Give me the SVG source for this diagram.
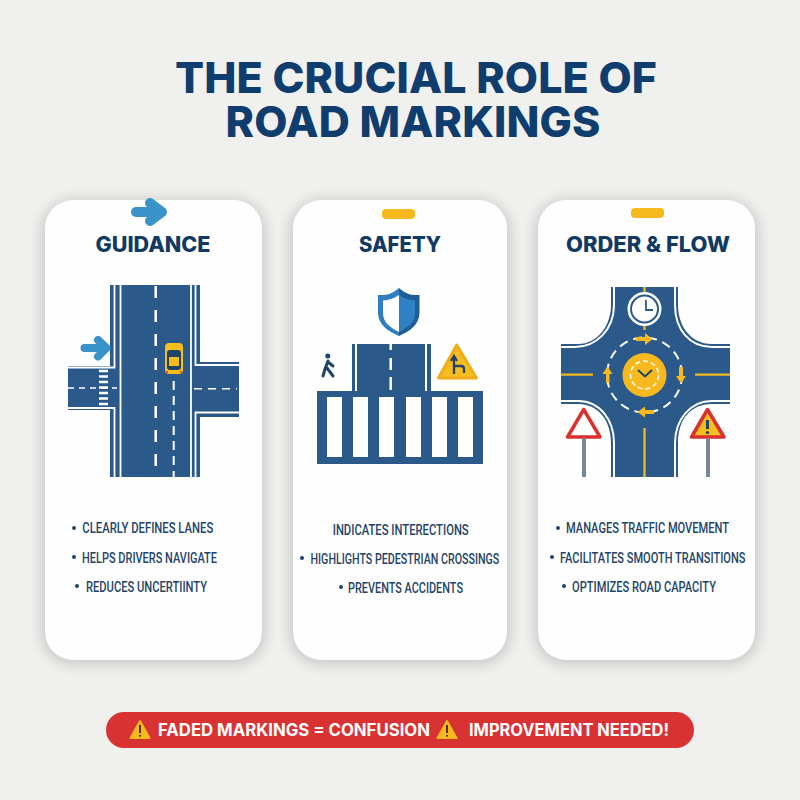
<svg xmlns="http://www.w3.org/2000/svg" width="800" height="800" viewBox="0 0 800 800">
<defs>
<filter id="sh" x="-15%" y="-10%" width="130%" height="120%"><feGaussianBlur stdDeviation="7"/></filter>
</defs>
<style>
.bg{fill:#f0f0ef}
.card{fill:#fefefe}
.shadow{fill:#000;opacity:.17}
.road{fill:#2b5a8a}
.wl{stroke:#fff;fill:none}
.title{font-family:Inter,"Liberation Sans",sans-serif;font-weight:800;fill:#0f3d6e;font-size:43px;text-anchor:middle}
.head{font-family:Inter,"Liberation Sans",sans-serif;font-weight:800;fill:#113a63;font-size:21px;text-anchor:middle}
.li{font-family:Roboto,"Liberation Sans",sans-serif;font-weight:500;fill:#1f4468;font-size:15.5px}
.dot{fill:#1f4468}
.ban{font-family:Inter,"Liberation Sans",sans-serif;font-weight:700;fill:#fff;font-size:17px}
.yel{fill:#f7b91e}
.ya{stroke:#f3b81f;fill:none}
.blue-arrow{fill:none;stroke:#3a92cb;stroke-linecap:round;stroke-linejoin:round}
</style>
<rect class="bg" width="800" height="800"/>
<text class="title" x="416" y="93" textLength="482" lengthAdjust="spacing">THE CRUCIAL ROLE OF</text>
<text class="title" x="413" y="137" textLength="375" lengthAdjust="spacing">ROAD MARKINGS</text>

<g id="card-guidance">
<rect class="shadow" x="42" y="200" width="223" height="464" rx="30" filter="url(#sh)"/>
<rect class="card" x="45" y="200" width="217" height="460" rx="28"/>
<path class="blue-arrow" d="M136 212H158M150 203L162 212L150 221" stroke-width="10"/>
<text class="head" x="153" y="252" textLength="115" lengthAdjust="spacingAndGlyphs">GUIDANCE</text>
<rect class="road" x="110" y="285" width="90" height="192"/>
<rect class="road" x="68" y="366" width="50" height="44"/>
<rect class="road" x="190" y="362" width="49" height="55"/>
<g class="wl" stroke-width="1.800">
<path d="M114.500 285V367.500H68M68 408H114.500V477"/>
<path d="M120.500 285V477"/>
<path d="M191 285V477"/>
<path d="M195.500 285V365H239M239 412.500H195.500V477"/>
</g>
<path d="M155.700 286V477" class="wl" stroke-width="2.500" stroke-dasharray="12 12"/>
<path d="M173.700 381V477" class="wl" stroke-width="2" stroke-dasharray="9 6"/>
<path d="M68 388H117" class="wl" stroke-width="1.500" stroke-dasharray="6 5"/>
<path d="M194 388.700H237" class="wl" stroke-width="1.500" stroke-dasharray="8 6"/>
<path d="M99 371H108M99 376.500H108M99 382H108M99 387.500H108M99 393H108M99 398.500H108M99 404H108" class="wl" stroke-width="2.500"/>
<path class="blue-arrow" d="M84.500 348H104M98 340L106.500 348L98 356.500" stroke-width="8"/>
<rect x="165" y="343" width="18" height="31" rx="4" fill="#f5bd1f"/>
<rect x="167" y="350" width="14" height="20" rx="3" fill="#1f4468"/>
<rect x="169" y="357" width="10" height="9" fill="#f5bd1f"/>
<circle cx="167" cy="372" r="1" fill="#d8342f"/><circle cx="181" cy="372" r="1" fill="#d8342f"/>
<circle class="dot" cx="74" cy="528" r="2"/>
<text class="li" x="82.300" y="533" textLength="131" lengthAdjust="spacingAndGlyphs">CLEARLY DEFINES LANES</text>
<circle class="dot" cx="74" cy="557" r="2"/>
<text class="li" x="82" y="562.500" textLength="135" lengthAdjust="spacingAndGlyphs">HELPS DRIVERS NAVIGATE</text>
<circle class="dot" cx="77" cy="586" r="2"/>
<text class="li" x="86" y="591.500" textLength="121" lengthAdjust="spacingAndGlyphs">REDUCES UNCERTIINTY</text>
</g>

<g id="card-safety">
<rect class="shadow" x="290" y="200" width="220" height="464" rx="30" filter="url(#sh)"/>
<rect class="card" x="293" y="200" width="214" height="460" rx="28"/>
<rect class="yel" x="382" y="209" width="33" height="10" rx="4"/>
<text class="head" x="400" y="252" textLength="82" lengthAdjust="spacingAndGlyphs">SAFETY</text>
<path d="M399 288C391 295 386 295 378 295V312C378 325 388 331 399 336Z" fill="#2f7fc0"/>
<path d="M399 288C407 295 412 295 419.500 295V312C419.500 325 410 331 399 336Z" fill="#1f5d99"/>
<path d="M399 295C393 299 389 300 383 300.500V313C383 323 391 328 399 332Z" fill="#fff"/>
<path d="M399 295C405 299 410 300 415 300.500V313C415 323 407 328 399 332Z" fill="#2f80c4"/>
<rect class="road" x="352" y="344" width="79" height="50"/>
<path d="M356 344V392M426 344V392" class="wl" stroke-width="2"/>
<path d="M390.700 344V350M390.700 358V370M390.700 377V390" class="wl" stroke-width="2.500"/>
<rect class="road" x="317" y="391" width="166" height="73"/>
<g fill="#fff"><rect x="327" y="397" width="15" height="60"/><rect x="353" y="397" width="15" height="60"/><rect x="379" y="397" width="15" height="60"/><rect x="406" y="397" width="15" height="60"/><rect x="432" y="397" width="15" height="60"/><rect x="458" y="397" width="15" height="60"/></g>
<circle cx="327.800" cy="356" r="2.500" fill="#1f4468"/>
<path d="M328 361L325 369L323 376M327 368L333 376M328 362L333 366" fill="none" stroke="#1f4468" stroke-width="3" stroke-linecap="round" stroke-linejoin="round"/>
<path d="M456.700 345L476.500 378H438.500Z" fill="#f5bd1f" stroke="#f0ac1a" stroke-width="3" stroke-linejoin="round"/>
<path d="M454 374V358M451 361L454 356L457 361M454 366H461Q464 366 464 369V373" fill="none" stroke="#1f4468" stroke-width="2.300"/>
<text class="li" x="332.700" y="535" textLength="136" lengthAdjust="spacingAndGlyphs">INDICATES INTERECTIONS</text>
<circle class="dot" cx="302" cy="558" r="2"/>
<text class="li" transform="translate(310.500 564) scale(.69 1)">HIGHLIGHTS PEDESTRIAN CROSSINGS</text>
<circle class="dot" cx="341" cy="587" r="2"/>
<text class="li" x="348" y="592.500" textLength="115" lengthAdjust="spacingAndGlyphs">PREVENTS ACCIDENTS</text>
</g>

<g id="card-order">
<rect class="shadow" x="535" y="200" width="223" height="464" rx="30" filter="url(#sh)"/>
<rect class="card" x="538" y="200" width="217" height="460" rx="28"/>
<rect class="yel" x="631" y="208" width="33" height="10" rx="4"/>
<text class="head" x="648" y="252" textLength="164" lengthAdjust="spacingAndGlyphs">ORDER &amp; FLOW</text>
<path class="road" d="M611 287H678V305C678 325 690 344 712 344H730V404H712C690 404 678 420 678 443V477H611V443C611 420 598 404 578 404H561V344H578C598 344 611 325 611 305Z"/>
<g class="wl" stroke-width="2">
<path d="M614 287V305C614 330 596 347 575 347H561M675 287V305C675 330 690 347 712 347H730M561 401H578C600 401 614 420 614 443V477M730 401H712C690 401 675 420 675 443V477"/>
</g>
<path d="M644.500 287V293M644.500 325V330M561 374.600H593M695 374.600H730M644.500 428V477" class="ya" stroke-width="2.300"/>
<circle cx="644.500" cy="375" r="37.500" class="wl" stroke-width="2" stroke-dasharray="9 6"/>
<circle cx="644.500" cy="375" r="22" class="yel"/>
<circle cx="644.500" cy="375" r="14" class="wl" stroke-width="1.500" stroke-dasharray="5 3"/>
<path d="M638 370L645 376.500L652 370" fill="none" stroke="#1f4468" stroke-width="2"/>
<circle cx="644.500" cy="309" r="15.500" fill="#fff" stroke="#fff" stroke-width="3"/>
<circle cx="644.500" cy="309" r="13.500" fill="#fff" stroke="#2b5a8a" stroke-width="2"/>
<path d="M646 300V310H653" fill="none" stroke="#2b5a8a" stroke-width="1.800"/>
<g class="yel">
<path d="M636 337H645V333L652.500 339L645 345V341H636Z"/>
<path d="M679 367H683V376H686L681 383.500L676 376H679Z"/>
<path d="M654 410H645V406.500L637.500 412L645 417.500V414H654Z"/>
<path d="M606 383V374H602.500L607.500 366.500L612.500 374H609.500V383Z"/>
</g>
<path d="M583.700 409.500L600 437H567.500Z" fill="#fff" stroke="#d9312f" stroke-width="3.500" stroke-linejoin="round"/>
<rect x="582" y="438.500" width="4" height="38.500" fill="#76899b"/>
<path d="M707.500 409.500L724 437H691.500Z" fill="#f5bd1f" stroke="#d9312f" stroke-width="3.500" stroke-linejoin="round"/>
<rect x="706" y="438.500" width="4" height="38.500" fill="#76899b"/>
<path d="M707.500 420V429" stroke="#1f4468" stroke-width="3"/><circle cx="707.500" cy="432.500" r="1.600" fill="#1f4468"/>
<circle class="dot" cx="558" cy="528" r="2"/>
<text class="li" x="566" y="533" textLength="163" lengthAdjust="spacingAndGlyphs">MANAGES TRAFFIC MOVEMENT</text>
<circle class="dot" cx="552" cy="557" r="2"/>
<text class="li" transform="translate(560 562.500) scale(.712 1)">FACILITATES SMOOTH TRANSITIONS</text>
<circle class="dot" cx="564" cy="586" r="2"/>
<text class="li" x="572" y="591.500" textLength="144" lengthAdjust="spacingAndGlyphs">OPTIMIZES ROAD CAPACITY</text>
</g>

<g id="banner">
<rect x="106" y="712" width="588" height="36" rx="18" fill="#d93233"/>
<path d="M140 721L149.500 738H130.500Z" fill="#f7b91e" stroke="#f7b91e" stroke-width="2" stroke-linejoin="round"/>
<path d="M140 725V733" stroke="#3b2a15" stroke-width="1.800"/><circle cx="140" cy="735.800" r="1" fill="#3b2a15"/>
<text class="ban" x="158" y="736" textLength="272" lengthAdjust="spacingAndGlyphs">FADED MARKINGS = CONFUSION</text>
<path d="M447 721L456.500 738H437.500Z" fill="#f7b91e" stroke="#f7b91e" stroke-width="2" stroke-linejoin="round"/>
<path d="M447 725V733" stroke="#3b2a15" stroke-width="1.800"/><circle cx="447" cy="735.800" r="1" fill="#3b2a15"/>
<text class="ban" x="469" y="736" textLength="200" lengthAdjust="spacingAndGlyphs">IMPROVEMENT NEEDED!</text>
</g>
</svg>
